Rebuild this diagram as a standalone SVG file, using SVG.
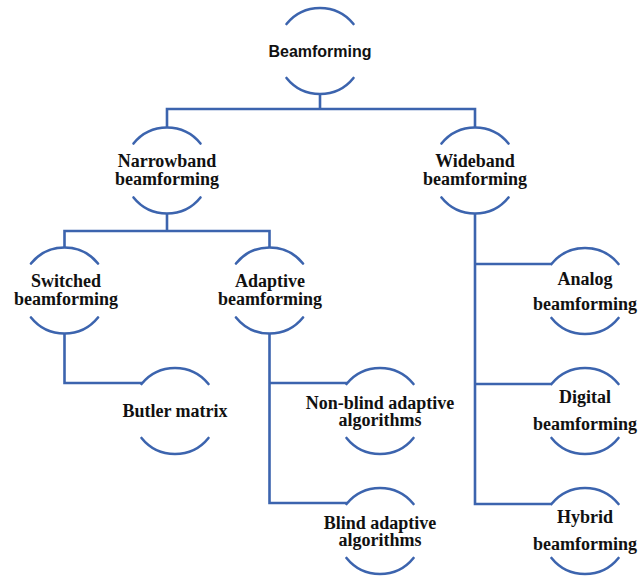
<svg xmlns="http://www.w3.org/2000/svg" xmlns:xlink="http://www.w3.org/1999/xlink" width="638" height="578" viewBox="0 0 638 578">
  <style>
    .arc { fill: none; stroke: #3c64ae; stroke-width: 2.6; stroke-linecap: round; }
    .conn { fill: none; stroke: #3c64ae; stroke-width: 2.6; stroke-linejoin: miter; }
    .lbl { font-family: "Liberation Serif", "Times New Roman", serif; font-weight: bold; font-size: 18px; fill: #111; text-anchor: middle; }
    .root { font-family: "Liberation Sans", Arial, sans-serif; font-weight: bold; font-size: 16px; fill: #111; text-anchor: middle; }
  </style>
  <defs>
    <path id="arcs" class="arc" d="M -33.5 -27 A 43 43 0 0 1 33.5 -27 M -33.5 27 A 43 43 0 0 0 33.5 27"/>
  </defs>
  <rect width="638" height="578" fill="#ffffff"/>

  <g id="connectors">
    <path class="conn" d="M 320 94 V 109 M 167 128 V 109 H 475 V 128"/>
    <path class="conn" d="M 167 213 V 231 M 64.5 248 V 231 H 269.5 V 248"/>
    <path class="conn" d="M 64.5 333 V 383 H 142"/>
    <path class="conn" d="M 269.5 333 V 503 H 347 M 269.5 383 H 347"/>
    <path class="conn" d="M 475 213 V 504 H 552 M 475 264 H 552 M 475 384 H 552"/>
  </g>

  <g id="beamforming">
    <use xlink:href="#arcs" transform="translate(320,51)"/>
    <text class="root" x="320" y="57">Beamforming</text>
  </g>
  <g id="narrowband">
    <use xlink:href="#arcs" transform="translate(167,170.5)"/>
    <text class="lbl" x="167" y="167">Narrowband</text>
    <text class="lbl" x="167" y="185">beamforming</text>
  </g>
  <g id="wideband">
    <use xlink:href="#arcs" transform="translate(475,170.5)"/>
    <text class="lbl" x="475" y="167">Wideband</text>
    <text class="lbl" x="475" y="185">beamforming</text>
  </g>
  <g id="switched">
    <use xlink:href="#arcs" transform="translate(64.5,290.5)"/>
    <text class="lbl" x="66" y="287">Switched</text>
    <text class="lbl" x="66" y="305">beamforming</text>
  </g>
  <g id="adaptive">
    <use xlink:href="#arcs" transform="translate(269.5,290.5)"/>
    <text class="lbl" x="270" y="287">Adaptive</text>
    <text class="lbl" x="270" y="305">beamforming</text>
  </g>
  <g id="butler">
    <use xlink:href="#arcs" transform="translate(175,411)"/>
    <text class="lbl" x="175" y="417">Butler matrix</text>
  </g>
  <g id="nonblind">
    <use xlink:href="#arcs" transform="translate(380,411)"/>
    <text class="lbl" x="380" y="409">Non-blind adaptive</text>
    <text class="lbl" x="380" y="426">algorithms</text>
  </g>
  <g id="blind">
    <use xlink:href="#arcs" transform="translate(380,531)"/>
    <text class="lbl" x="380" y="529">Blind adaptive</text>
    <text class="lbl" x="380" y="546">algorithms</text>
  </g>
  <g id="analog">
    <use xlink:href="#arcs" transform="translate(585,291)"/>
    <text class="lbl" x="585" y="285">Analog</text>
    <text class="lbl" x="585" y="310">beamforming</text>
  </g>
  <g id="digital">
    <use xlink:href="#arcs" transform="translate(585,411)"/>
    <text class="lbl" x="585" y="403">Digital</text>
    <text class="lbl" x="585" y="430">beamforming</text>
  </g>
  <g id="hybrid">
    <use xlink:href="#arcs" transform="translate(585,531)"/>
    <text class="lbl" x="585" y="523">Hybrid</text>
    <text class="lbl" x="585" y="550">beamforming</text>
  </g>
</svg>
